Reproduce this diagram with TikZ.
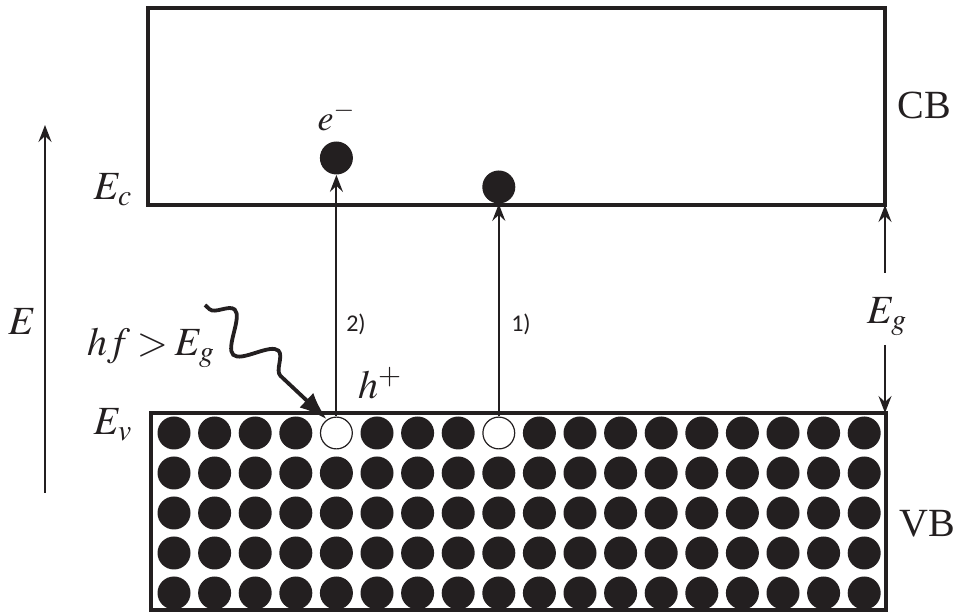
\documentclass[tikz,border=0pt]{standalone}
\usepackage{mathptmx}
\usepackage{fontspec}
\setmainfont{Liberation Serif}
\newfontfamily\stepfont{Carlito}
\usepackage{tikz}
\usepackage{xcolor}
\usetikzlibrary{arrows.meta,positioning,calc,decorations.pathmorphing}
\definecolor{ink}{HTML}{231F20}
\tikzset{
  band/.style   ={draw=ink, line width=1.8pt},
  dot/.style    ={circle, fill=ink, inner sep=0pt, minimum size=16.5pt},
  hole/.style   ={circle, draw=ink, fill=white, line width=0.6pt,
                  inner sep=0pt, minimum size=15.9pt},
  arr/.style    ={-{Stealth[length=8.5pt,width=6.5pt,inset=3pt]},
                  line width=1pt, draw=ink},
  photon/.style ={-{Latex[length=14pt,width=10pt]}, line width=1.9pt,
                  draw=ink, decorate,
                  decoration={snake, amplitude=8.5pt, segment length=30pt,
                              pre length=3pt, post length=20pt}},
  lbl/.style    ={font=\fontsize{20}{24}\selectfont, text=ink, inner sep=1pt},
  tag/.style    ={font=\stepfont\fontsize{12}{14}\selectfont, text=ink},
}

\begin{document}
\begin{tikzpicture}[x=0.5pt,y=-0.5pt]
  \useasboundingbox (0,0) rectangle (958,613);

  \draw[band] (148,8) rectangle (885,205);
  \draw[band] (151,413) rectangle (886,610);

  \foreach \c in {0,...,17}{
    \foreach \r in {0,...,4}{
      \def\kind{dot}
      \ifnum\r=0 \ifnum\c=4 \def\kind{hole}\fi\ifnum\c=8 \def\kind{hole}\fi\fi
      \node[\kind] (v\c-\r) at ({174+40.6*\c},{433+40*\r}) {};
    }
  }

  \node[dot] (e2) at (v4-0 |- 0,158) {};
  \node[dot] (e1) at (v8-0 |- 0,187) {};
  \draw[arr] (v4-0.north) -- (e2.south);
  \draw[arr] (v8-0.north) -- (e1.south);

  \node[lbl, font=\fontsize{18}{20}\selectfont] (elec) at (e2 |- 0,116) {$e^{-}$};
  \node[lbl] (hplus) at (380,383) {$h^{+}$};
  \node[tag] (jump2) at (356,324) {2)};
  \node[tag] (jump1) at (521,324) {1)};

  \coordinate (gtop) at (885,205);
  \coordinate (gbot) at (885,413);
  \coordinate (gapa) at (885,273);
  \coordinate (gapb) at (885,345);
  \node[lbl] (gap) at (887,317) {$E_g$};
  \draw[arr] (gapa) -- (gtop);
  \draw[arr] (gapb) -- (gbot);

  \coordinate (ebot) at (45,493);
  \coordinate (etop) at (45,125);
  \draw[arr] (ebot) -- (etop);
  \node[lbl] (energy) at (22,322) {$E$};

  \node[lbl] (ec) at (113,190) {$E_c$};
  \node[lbl] (ev) at (113,425) {$E_v$};
  \node[lbl] (cond) at (151,348) {$hf\mskip3mu{>}\mskip3mu E_g$};
  \node[lbl] (cb) at (924,105) {CB};
  \node[lbl] (vb) at (927,524) {VB};

  \coordinate (src) at (205,305);
  \draw[photon] (src) -- (v4-0.125);
\end{tikzpicture}
\end{document}
